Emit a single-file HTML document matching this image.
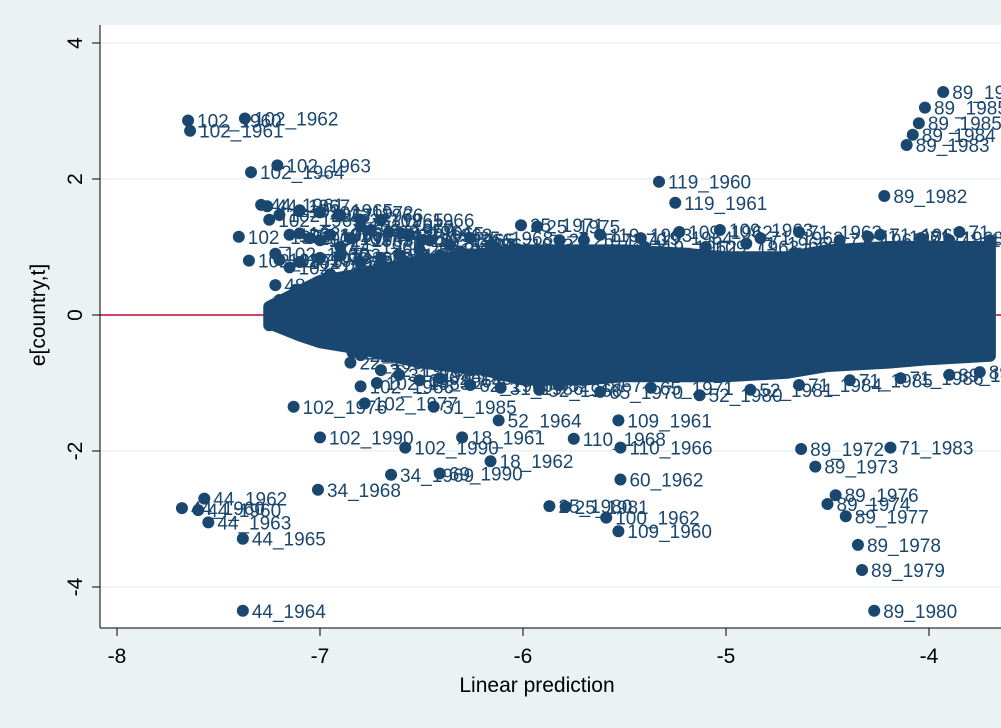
<!DOCTYPE html>
<html><head><meta charset="utf-8"><style>
html,body{margin:0;padding:0;background:#eaf2f3;}
svg{display:block;font-family:"Liberation Sans",sans-serif;}
</style></head><body>
<svg id="chart" width="1001" height="728">
<rect x="0" y="0" width="1001" height="728" fill="#eaf2f3"/>
<rect x="100" y="25" width="901" height="603" fill="#ffffff"/>
<g id="grid"></g>
<line x1="100" y1="315" x2="1001" y2="315" stroke="#c10534" stroke-width="1.5"/>
<g id="marks"></g>
<line x1="100" y1="25" x2="100" y2="628" stroke="#000" stroke-width="1"/>
<line x1="100" y1="628" x2="1001" y2="628" stroke="#000" stroke-width="1"/>
<g id="axes"></g>
<text x="537" y="692" font-size="21" text-anchor="middle" fill="#000">Linear prediction</text>
<text x="0" y="0" transform="translate(45,315) rotate(-90)" font-size="21" text-anchor="middle" fill="#000">e[country,t]</text>
</svg>
<script>
const xTicks=[-8,-7,-6,-5,-4];
const yTicks=[4,2,0,-2,-4];
const cloudX=[-7.25,-7.1,-7.0,-6.8,-6.5,-6.2,-6.0,-5.7,-5.5,-5.2,-5.0,-4.7,-4.5,-4.2,-4.0,-3.7];
const cloudTop=[0.12,0.35,0.5,0.6,0.8,0.9,0.95,0.95,0.95,0.9,0.85,0.85,0.95,1.0,1.0,1.0];
const cloudBot=[-0.12,-0.3,-0.4,-0.5,-0.7,-0.8,-0.95,-0.95,-0.9,-0.9,-0.9,-0.85,-0.75,-0.7,-0.65,-0.6];
const ptX=[-7.65,-7.64,-7.37,-7.34,-7.21,-7.68,-7.6,-7.57,-7.55,-7.38,-7.38,-7.01,-6.65,-6.41,-6.16,-5.87,-5.79,-5.59,-5.53,-5.52,-5.52,-5.75,-5.53,-5.33,-5.25,-3.93,-4.02,-4.05,-4.08,-4.11,-4.22,-4.27,-4.33,-4.35,-4.41,-4.46,-4.56,-4.63,-4.5,-4.19,-7.13,-7.0,-6.8,-6.84,-6.72,-6.78,-6.44,-6.58,-6.3,-6.12,-7.26,-7.25,-7.4,-7.35,-7.22,-7.1,-7.0,-6.9,-6.8,-6.7,-6.6,-6.5,-6.95,-7.15,-6.85,-5.93,-5.7,-5.4,-5.1,-4.9,-4.6,-4.3,-4.1,-3.9];
const ptY=[2.86,2.71,2.89,2.1,2.2,-2.84,-2.87,-2.7,-3.05,-3.29,-4.35,-2.57,-2.35,-2.33,-2.15,-2.81,-2.82,-2.98,-3.18,-2.42,-1.95,-1.82,-1.55,1.96,1.65,3.28,3.05,2.82,2.65,2.5,1.75,-4.35,-3.75,-3.38,-2.96,-2.65,-2.23,-1.97,-2.78,-1.95,-1.35,-1.8,-1.05,-0.55,-1.0,-1.3,-1.35,-1.95,-1.8,-1.55,1.6,1.4,1.15,0.8,0.9,1.2,1.1,1.0,1.3,1.4,1.2,1.1,0.6,0.7,-0.7,1.3,1.1,1.0,1.0,1.05,0.85,1.15,1.0,1.1];
const ptLab=["102_1960","102_1961","102_1962","102_1964","102_1963","44_1960","44_1960","44_1962","44_1963","44_1965","44_1964","34_1968","34_1969","69_1990","18_1962","25_1980","25_1981","100_1962","109_1960","60_1962","110_1966","110_1968","109_1961","119_1960","119_1961","89_1986","89_1985","89_1985","89_1984","89_1983","89_1982","89_1980","89_1979","89_1978","89_1977","89_1976","89_1973","89_1972","89_1974","71_1983","102_1976","102_1990","102_1986","22_1962","102_1983","102_1977","31_1985","102_1990","18_1961","52_1964","44_1967","102_1965","102_1962","102_1973","102_1966","102_1966","102_1965","44_1965","102_1970","102_1966","33_1965","102_1965","48_1966","102_1968","22_1966","25_1975","25_1970","119_1962","109_1963","71_1966","71_1964","71_1961","71_1990","71_1970"];
const exX=[-7.29,-7.20,-7.10,-7.00,-6.90,-6.80,-7.15,-7.05,-6.95,-6.85,-6.75,-6.66,-6.56,-6.46,-6.36,-6.26,-6.16,-7.20,-7.10,-7.00,-6.90,-6.80,-6.70,-6.61,-6.51,-6.41,-6.31,-7.22,-7.12,-7.02,-6.93,-6.83,-7.20,-7.10,-7.25,-7.15,-7.05,-6.95,-6.85,-6.75,-6.66,-6.56,-6.46,-6.36,-6.26,-6.80,-6.70,-6.61,-6.51,-6.41,-6.26,-6.11,-5.92,-5.82,-5.62,-5.37,-5.13,-4.88,-4.64,-4.39,-4.14,-3.90,-3.75,-6.01,-5.82,-5.62,-5.42,-5.23,-5.03,-4.83,-4.64,-4.44,-4.24,-4.04,-3.85,-3.70];
const exY=[1.62,1.47,1.54,1.51,1.47,1.40,1.18,1.13,1.18,1.13,1.25,1.22,1.18,1.10,1.03,1.13,1.03,0.81,0.78,0.84,0.88,0.78,0.84,0.88,0.96,0.88,0.93,0.44,0.37,0.34,0.40,0.29,0.22,0.15,-0.15,-0.22,-0.29,-0.34,-0.37,-0.44,-0.51,-0.59,-0.66,-0.69,-0.81,-0.59,-0.81,-0.88,-0.96,-0.93,-1.03,-1.07,-1.10,-1.03,-1.13,-1.07,-1.18,-1.10,-1.03,-0.96,-0.93,-0.88,-0.84,1.32,1.10,1.18,1.13,1.22,1.25,1.13,1.22,1.10,1.18,1.13,1.22,1.10];
const exLab=["44_1961","102_1967","102_1965","102_1972","33_1966","33_1965","102_1969","102_1974","102_1971","102_1975","33_1967","33_1964","33_1963","25_1966","25_1967","25_1968","25_1973","102_1978","102_1979","102_1980","102_1981","33_1970","33_1971","33_1972","25_1974","25_1976","25_1977","48_1965","48_1964","48_1967","48_1968","48_1969","48_1970","48_1971","48_1972","48_1973","48_1974","22_1964","22_1965","22_1967","22_1968","31_1980","31_1981","31_1982","31_1983","22_1969","22_1970","31_1984","62_1964","62_1965","62_1966","31_1986","52_1966","52_1967","65_1970","65_1971","52_1980","52_1981","71_1984","71_1985","71_1986","89_1987","89_1988","25_1971","25_1972","119_1963","119_1964","109_1962","109_1963","71_1962","71_1963","71_1965","71_1967","71_1968","71_1969","71_1971"];
const X=v=>117+(v+8)*203, Y=v=>315-v*68;
const NS='http://www.w3.org/2000/svg';
const grid=document.getElementById('grid'),axes=document.getElementById('axes'),marks=document.getElementById('marks');
yTicks.forEach(t=>{
 if(t!==0){const g=document.createElementNS(NS,'line');g.setAttribute('x1',100);g.setAttribute('x2',1001);g.setAttribute('y1',Y(t));g.setAttribute('y2',Y(t));g.setAttribute('stroke','#eaf2f3');g.setAttribute('stroke-width','1.5');
 
 grid.appendChild(g);}
 const k=document.createElementNS(NS,'line');k.setAttribute('x1',92);k.setAttribute('x2',100);k.setAttribute('y1',Y(t));k.setAttribute('y2',Y(t));k.setAttribute('stroke','#000');
 
 axes.appendChild(k);
 const l=document.createElementNS(NS,'text');l.setAttribute('transform',`translate(82,${Y(t)}) rotate(-90)`);l.setAttribute('text-anchor','middle');l.setAttribute('font-size','21');l.textContent=t;
 
 axes.appendChild(l);
});
xTicks.forEach(t=>{
 const k=document.createElementNS(NS,'line');k.setAttribute('x1',X(t));k.setAttribute('x2',X(t));k.setAttribute('y1',628);k.setAttribute('y2',636);k.setAttribute('stroke','#000');
 
 axes.appendChild(k);
 const l=document.createElementNS(NS,'text');l.setAttribute('x',X(t));l.setAttribute('y',663);l.setAttribute('text-anchor','middle');l.setAttribute('font-size','21');l.textContent=t;
 
 axes.appendChild(l);
});
const C='#1a476f';
let d='M'+cloudX.map((x,i)=>X(x)+','+Y(cloudTop[i])).join(' L')+' L'+cloudX.map((x,i)=>X(x)+','+Y(cloudBot[i])).reverse().join(' L')+'Z';
const poly=document.createElementNS(NS,'path');poly.setAttribute('d',d);poly.setAttribute('fill',C);poly.setAttribute('stroke',C);poly.setAttribute('stroke-width','12');poly.setAttribute('stroke-linejoin','round');

marks.appendChild(poly);
function addPoint(x,y,lab){
 const c=document.createElementNS(NS,'circle');c.setAttribute('cx',X(x));c.setAttribute('cy',Y(y));c.setAttribute('r',6);c.setAttribute('fill',C);
 
 marks.appendChild(c);
 const t=document.createElementNS(NS,'text');t.setAttribute('x',X(x)+9);t.setAttribute('y',Y(y)+7);t.setAttribute('font-size','19');t.setAttribute('fill',C);t.textContent=lab;
 
 marks.appendChild(t);
}
exX.forEach((x,i)=>addPoint(x,exY[i],exLab[i]));
ptX.forEach((x,i)=>addPoint(x,ptY[i],ptLab[i]));
</script>
</body></html>
